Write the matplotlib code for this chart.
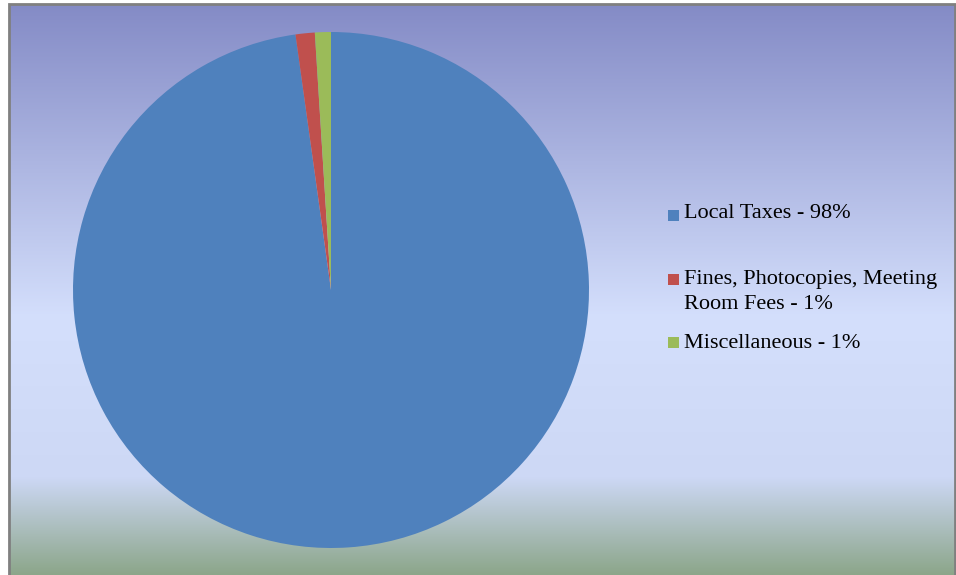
import matplotlib.pyplot as plt
import numpy as np
from matplotlib.patches import Rectangle

labels = ["Local Taxes - 98%", "Fines, Photocopies, Meeting\nRoom Fees - 1%", "Miscellaneous - 1%"]
values = [97.8, 1.2, 1.0]
colors = ["#4F81BD", "#C0504D", "#9BBB59"]

# background gradient stops (fraction from top, rgb)
grad_stops = [0.0, 0.55, 0.83, 1.0]
grad_colors = np.array([[132, 139, 198], [212, 223, 252], [205, 216, 245], [140, 166, 138]]) / 255.0

W, H = 956, 575
fig = plt.figure(figsize=(W / 100, H / 100), dpi=100)
fig.patch.set_facecolor("white")

# chart area background
bx0, by0 = 9 / W, 0.0
bx1, by1 = 955 / W, 1 - 4 / H
bg = fig.add_axes([bx0, by0, bx1 - bx0, by1 - by0])
t = np.linspace(0, 1, 400)
rows = np.stack([np.interp(t, grad_stops, grad_colors[:, c]) for c in range(3)], axis=1)
img = np.repeat(rows[:, None, :], 2, axis=1)
bg.imshow(img, aspect="auto", extent=[0, 1, 0, 1], interpolation="bilinear")
bg.set_xlim(0, 1)
bg.set_ylim(0, 1)
bg.axis("off")
# border (bottom edge runs off the image, as in the original)
fig.add_artist(Rectangle((bx0, -0.02), bx1 - bx0, by1 + 0.02, transform=fig.transFigure,
                         fill=False, edgecolor="#808080", linewidth=2))

# pie axes: center (331, 290), radius 258 px
cx, cy, r = 331, 290, 258
ax = fig.add_axes([(cx - r) / W, 1 - (cy + r) / H, 2 * r / W, 2 * r / H])
ax.pie(values, colors=colors, startangle=90, counterclock=False,
       wedgeprops=dict(linewidth=0))
ax.set_xlim(-1, 1)
ax.set_ylim(-1, 1)
ax.set_aspect("equal")
ax.axis("off")

# legend: text centre y and marker y (marker sits on the first line)
text_y = [214, 292, 343]
mark_y = [215, 279, 342]
for lab, col, ty, my in zip(labels, colors, text_y, mark_y):
    fig.add_artist(Rectangle((668 / W, 1 - (my + 5.5) / H), 11 / W, 11 / H,
                             transform=fig.transFigure, facecolor=col, edgecolor="none"))
    fig.text(684 / W, 1 - ty / H, lab, ha="left", va="center", fontsize=16,
             family="Liberation Serif", color="black", linespacing=1.38)

fig.savefig("out.png", dpi=100)
